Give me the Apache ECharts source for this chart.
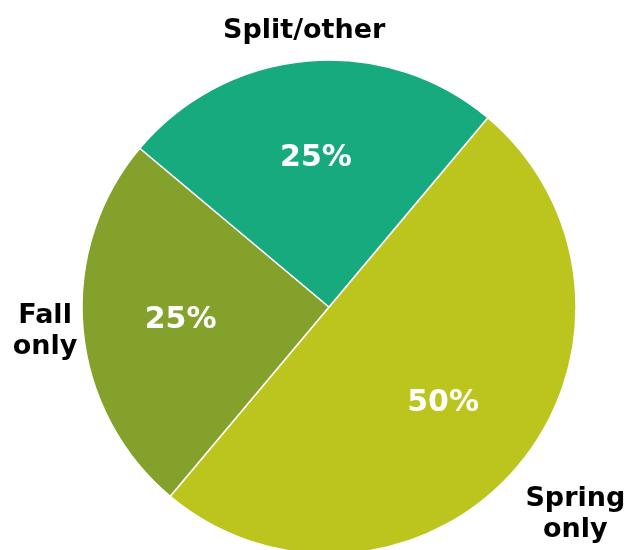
<!DOCTYPE html>
<html>
<head>
<meta charset="utf-8">
<script src="https://cdn.jsdelivr.net/npm/echarts@6/dist/echarts.min.js"></script>
<style>
html,body{margin:0;padding:0;background:#fff;}
#chart{width:628px;height:550px;}
</style>
</head>
<body>
<div id="chart"></div>
<script>
const categories = ['Spring\nonly', 'Fall\nonly', 'Split/other'];
const values = [50, 25, 25];
const colors = ['#BCC41E', '#84A12C', '#17AA7E'];

const data = categories.map((c, i) => ({ name: c, value: values[i], itemStyle: { color: colors[i] } }));
const ghost = categories.map((c, i) => ({ name: c, value: values[i] }));

const chart = echarts.init(document.getElementById('chart'), null, { renderer: 'canvas' });
const center = [329, 307];
const font = 'DejaVu Sans';
const nameShift = [{ dx: 28, dy: 24 }, { dx: 0, dy: 0 }, { dx: 0, dy: 8 }];
chart.setOption({
  animation: false,
  series: [
    {
      type: 'pie', silent: true, center: center, radius: [0, 247],
      startAngle: 50, clockwise: true,
      data: data,
      itemStyle: { borderColor: '#fff', borderWidth: 1.5 },
      label: { show: false }, labelLine: { show: false }
    },
    {
      type: 'pie', silent: true, center: center, radius: [96, 196],
      startAngle: 50, clockwise: true,
      data: ghost,
      itemStyle: { color: 'rgba(0,0,0,0)' },
      label: {
        show: true, position: 'inside',
        formatter: p => Math.round(p.percent) + '%',
        color: '#fff', fontFamily: font, fontWeight: 'bold', fontSize: 30
      },
      labelLine: { show: false }
    },
    {
      type: 'pie', silent: true, center: center, radius: [262, 302],
      startAngle: 50, clockwise: true,
      data: ghost,
      itemStyle: { color: 'rgba(0,0,0,0)' },
      label: {
        show: true, position: 'inside',
        formatter: p => p.name,
        color: '#000', fontFamily: font, fontWeight: 'bold', fontSize: 27, lineHeight: 31
      },
      labelLine: { show: false },
      labelLayout: p => nameShift[p.dataIndex]
    }
  ]
});
</script>
</body>
</html>
